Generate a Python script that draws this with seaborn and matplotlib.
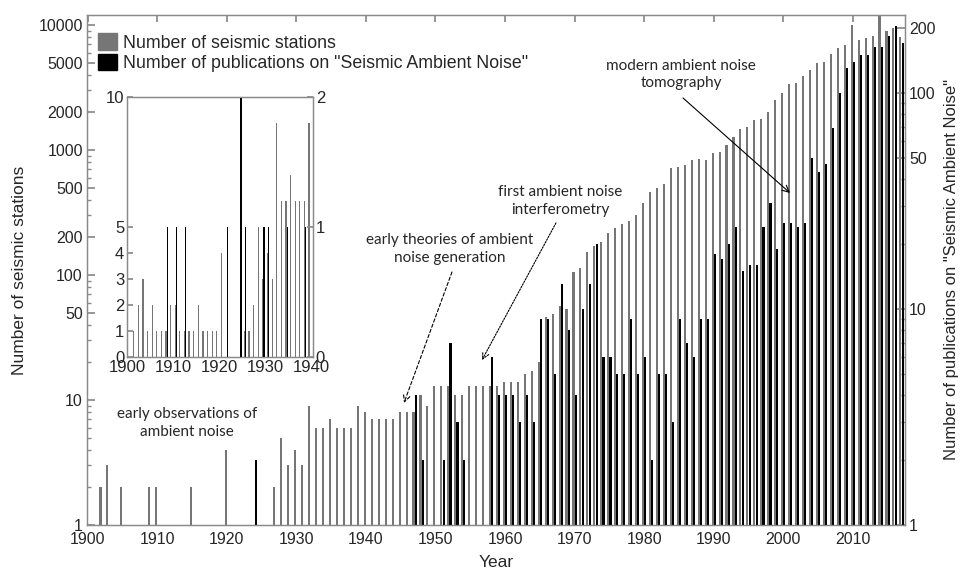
import numpy as np
import matplotlib
matplotlib.use("Agg")
import matplotlib.pyplot as plt
import matplotlib.ticker as mticker
from matplotlib.patches import Patch
import seaborn as sns

# ---------------- data ----------------
years = list(range(1900, 2018))

stations = [
    0, 1, 2, 3, 1, 2, 1, 1, 1, 2,          # 1900-1909
    2, 1, 1, 1, 1, 2, 1, 1, 1, 1,          # 1910-1919
    4, 0, 0, 0, 0, 1, 1, 2, 5, 3,          # 1920-1929
    4, 3, 9, 6, 6, 7, 6, 6, 6, 9,          # 1930-1939
    8, 7, 7, 7, 7, 8, 8, 8, 11, 9,         # 1940-1949
    13, 13, 13, 11, 11, 13, 13, 13, 13, 13,  # 1950-1959
    14, 14, 14, 16, 17, 20, 46, 49, 56, 53,  # 1960-1969
    106, 114, 152, 170, 185, 217, 239, 255, 270, 300,  # 1970-1979
    376, 464, 500, 535, 720, 734, 760, 830, 850, 830,  # 1980-1989
    945, 966, 1100, 1260, 1470, 1530, 1740, 1760, 2020, 2510,  # 1990-1999
    2860, 3380, 3460, 3920, 4330, 5000, 5050, 5850, 6530, 6920,  # 2000-2009
    10000, 7600, 7800, 8100, 11700, 9000, 9500, 8000,  # 2010-2017
]

publications = [
    0, 0, 0, 0, 0, 0, 0, 0, 1, 0,          # 1900-1909
    1, 0, 1, 0, 0, 0, 0, 0, 0, 0,          # 1910-1919
    0, 1, 0, 0, 2, 1, 0, 0, 0, 1,          # 1920-1929
    1, 0, 0, 0, 1, 0, 0, 0, 1, 0,          # 1930-1939
    0, 0, 0, 0, 0, 0, 0, 4, 2, 0,          # 1940-1949
    0, 2, 7, 3, 2, 1, 1, 1, 6, 4,          # 1950-1959
    4, 4, 3, 4, 3, 9, 9, 5, 13, 8,         # 1960-1969
    4, 10, 13, 20, 6, 6, 5, 5, 9, 5,       # 1970-1979
    6, 2, 5, 5, 3, 9, 7, 6, 9, 9,          # 1980-1989
    18, 17, 20, 24, 15, 16, 16, 24, 31, 19,  # 1990-1999
    25, 25, 24, 25, 50, 43, 47, 69, 100, 131,  # 2000-2009
    139, 150, 150, 163, 163, 183, 205, 170,  # 2010-2017
]

left_ticks = [1, 10, 50, 100, 200, 500, 1000, 2000, 5000, 10000]
right_ticks = [1, 10, 50, 100, 200]
x_ticks = list(range(1900, 2020, 10))
inset_left_ticks = [0, 1, 2, 3, 4, 5, 10]
inset_right_ticks = [0, 1, 2]
inset_x_ticks = [1900, 1910, 1920, 1930, 1940]
inset_last_year = 1940

legend_labels = ["Number of seismic stations",
                 'Number of publications on "Seismic Ambient Noise"']
notes = ["early observations of\nambient noise",
         "early theories of ambient\nnoise generation",
         "first ambient noise\ninterferometry",
         "modern ambient noise\ntomography"]

# ---------------- style ----------------
sns.set_theme(style="white")
plt.rcParams["font.family"] = ["Liberation Sans", "DejaVu Sans"]
GRAY = "#767676"
BLACK = "#000000"
FRAME = "#8a8a8a"

yr = np.array(years, dtype=float)
st = np.array(stations, dtype=float)
pb = np.array(publications, dtype=float)
st_plot = np.where(st > 0, st, np.nan)
pb_plot = np.where(pb > 0, pb, np.nan)

fig = plt.figure(figsize=(9.64, 5.71), dpi=100)
ax = fig.add_axes([87 / 964, 1 - 525 / 571, 818 / 964, 510 / 571])
ax2 = ax.twinx()

sns.barplot(x=yr - 0.16, y=st_plot, ax=ax, native_scale=True, width=0.3,
            color=GRAY, saturation=1, errorbar=None, linewidth=0)
sns.barplot(x=yr + 0.16, y=pb_plot, ax=ax2, native_scale=True, width=0.3,
            color=BLACK, saturation=1, errorbar=None, linewidth=0)

for a in (ax, ax2):
    a.set_yscale("log")
    a.set_xlim(1899.9, 2017.5)
    for s in a.spines.values():
        s.set_color(FRAME)
        s.set_linewidth(0.9)

ax.set_ylim(1, 12000)
ax2.set_ylim(1, 230)

ax.yaxis.set_major_locator(mticker.FixedLocator(left_ticks))
ax.yaxis.set_major_formatter(mticker.FixedFormatter([str(t) for t in left_ticks]))
ax.yaxis.set_minor_locator(mticker.LogLocator(base=10, subs=np.arange(2, 10)))
ax.yaxis.set_minor_formatter(mticker.NullFormatter())
ax2.yaxis.set_major_locator(mticker.FixedLocator(right_ticks))
ax2.yaxis.set_major_formatter(mticker.FixedFormatter([str(t) for t in right_ticks]))
ax2.yaxis.set_minor_locator(mticker.LogLocator(base=10, subs=np.arange(2, 10)))
ax2.yaxis.set_minor_formatter(mticker.NullFormatter())

ax.set_xticks(x_ticks)
ax.set_xticklabels([str(t) for t in x_ticks])
ax.tick_params(axis="x", which="both", direction="in", length=5, color=FRAME,
               labelsize=11.5, top=True, pad=5)
ax.tick_params(axis="y", which="major", direction="in", length=6, color=FRAME,
               labelsize=11.5, left=True, pad=3)
ax.tick_params(axis="y", which="minor", direction="in", length=3, color=FRAME, left=True)
ax2.tick_params(axis="y", which="major", direction="in", length=6, color=FRAME,
                labelsize=11.5, right=True, pad=3)
ax2.tick_params(axis="y", which="minor", direction="in", length=3, color=FRAME, right=True)

ax.set_xlabel("Year", fontsize=12.5, labelpad=6)
ax.set_ylabel("Number of seismic stations", fontsize=12.5, labelpad=8)
ax2.set_ylabel('Number of publications on "Seismic Ambient Noise"', fontsize=12,
               labelpad=6)

# legend
handles = [Patch(facecolor=GRAY, edgecolor=GRAY), Patch(facecolor=BLACK, edgecolor=BLACK)]
ax.legend(handles, legend_labels, loc="upper left", bbox_to_anchor=(0.0, 0.985),
          frameon=False, fontsize=12.8, handlelength=1.1, handleheight=1.05,
          handletextpad=0.3, labelspacing=0.12, borderaxespad=0.3, borderpad=0.3)

# annotations (axes-fraction placement)
ann_font = ["Lato", "DejaVu Sans"]
ann = dict(transform=ax.transAxes, ha="center", va="center", fontsize=11,
           family=ann_font, linespacing=1.3)
ax.text(0.122, 0.20, notes[0], **ann)
ax.text(0.4435, 0.541, notes[1], **ann)
ax.text(0.5782, 0.635, notes[2], **ann)
ax.text(0.7265, 0.884, notes[3], **ann)

arrow_kw = dict(arrowstyle="->", color="black", lw=0.8, shrinkA=0, shrinkB=0)
ax.annotate("", xy=(0.3875, 0.2392), xytext=(0.4462, 0.4961), xycoords="axes fraction",
            textcoords="axes fraction", arrowprops=dict(arrow_kw, linestyle=(0, (3, 2))))
ax.annotate("", xy=(0.4829, 0.3235), xytext=(0.5733, 0.5922), xycoords="axes fraction",
            textcoords="axes fraction", arrowprops=dict(arrow_kw, linestyle=(0, (1.5, 1.2))))
ax.annotate("", xy=(0.8594, 0.651), xytext=(0.7286, 0.8373), xycoords="axes fraction",
            textcoords="axes fraction", arrowprops=arrow_kw)

# ---------------- inset ----------------
n_in = years.index(inset_last_year) + 1
axi = fig.add_axes([127 / 964, 1 - 357 / 571, 186 / 964, 260 / 571])
axi2 = axi.twinx()
axi.set_facecolor("white")
sns.barplot(x=yr[:n_in] + 0.45, y=st[:n_in], ax=axi, native_scale=True, width=0.26,
            color=GRAY, saturation=1, errorbar=None, linewidth=0)
sns.barplot(x=yr[:n_in] + 0.7, y=pb[:n_in], ax=axi2, native_scale=True, width=0.28,
            color=BLACK, saturation=1, errorbar=None, linewidth=0)
for a in (axi, axi2):
    a.set_xlim(1900, 1940.3)
    for s in a.spines.values():
        s.set_color(FRAME)
        s.set_linewidth(0.9)
axi.set_ylim(0, 10)
axi2.set_ylim(0, 2)
axi.set_yticks(inset_left_ticks)
axi.set_yticklabels([str(t) for t in inset_left_ticks])
axi2.set_yticks(inset_right_ticks)
axi2.set_yticklabels([str(t) for t in inset_right_ticks])
axi.set_xticks(inset_x_ticks)
axi.set_xticklabels([str(t) for t in inset_x_ticks])
axi.tick_params(axis="both", direction="in", length=4, color=FRAME, labelsize=12, pad=2)
axi2.tick_params(axis="y", direction="in", length=4, color=FRAME, labelsize=12, pad=2)
axi.set_xlabel("")
axi.set_ylabel("")
axi2.set_ylabel("")

fig.savefig("out.png", dpi=100)
